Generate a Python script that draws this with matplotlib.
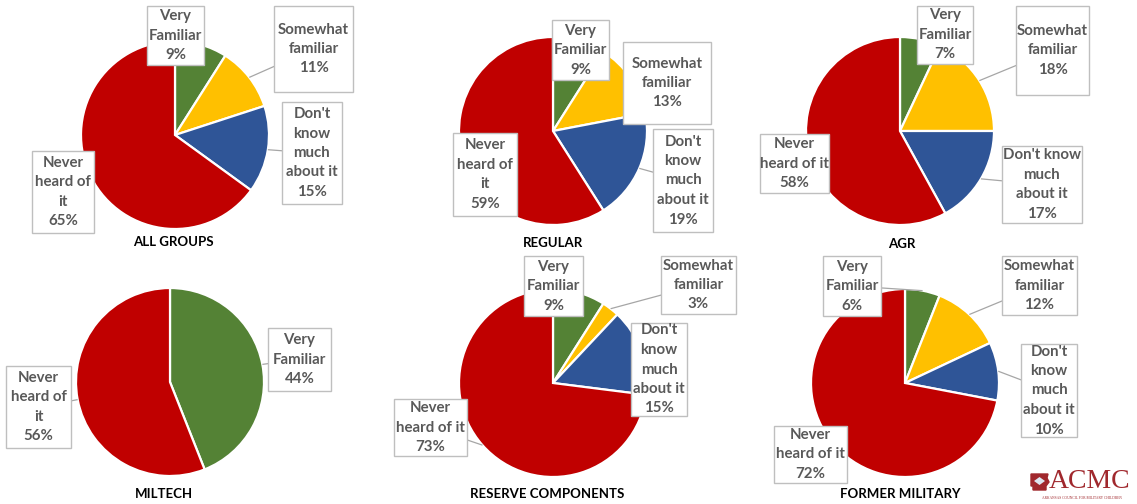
import matplotlib
matplotlib.use("Agg")
import matplotlib.pyplot as plt
from matplotlib.patches import Rectangle, Polygon
import numpy as np

W, H = 1137, 504

# ---------------- data ----------------
groups = ["ALL GROUPS", "REGULAR", "AGR", "MILTECH", "RESERVE COMPONENTS", "FORMER MILITARY"]
categories = ["Very Familiar", "Somewhat familiar", "Don't know much about it", "Never heard of it"]
very_familiar = [9, 9, 7, 44, 9, 6]
somewhat_familiar = [11, 13, 18, 0, 3, 12]
dont_know_much = [15, 19, 17, 0, 15, 10]
never_heard = [65, 59, 58, 56, 73, 72]

colors = ["#548235", "#FFC000", "#2F5597", "#C00000"]

# ---------------- layout (pixel coordinates, y from top) ----------------
pie_centers = [(175, 135), (553, 131), (900, 131), (170, 382), (553, 383), (905, 383)]
pie_radius = 94
title_pos = [(173, 242), (553, 243), (902, 244), (164, 494), (547, 494), (900, 494)]

# label text wrapping per panel
wraps = [
    ["Very\nFamiliar", "Somewhat\nfamiliar", "Don't\nknow\nmuch\nabout it", "Never\nheard of\nit"],
    ["Very\nFamiliar", "Somewhat\nfamiliar", "Don't\nknow\nmuch\nabout it", "Never\nheard of\nit"],
    ["Very\nFamiliar", "Somewhat\nfamiliar", "Don't know\nmuch\nabout it", "Never\nheard of it"],
    ["Very\nFamiliar", None, None, "Never\nheard of\nit"],
    ["Very\nFamiliar", "Somewhat\nfamiliar", "Don't\nknow\nmuch\nabout it", "Never\nheard of it"],
    ["Very\nFamiliar", "Somewhat\nfamiliar", "Don't\nknow\nmuch\nabout it", "Never\nheard of it"],
]
# label boxes (left, top, right, bottom)
boxes = [
    [(147, 6, 204, 65), (274, 6, 353, 92), (282, 102, 342, 204), (32, 151, 94, 233)],
    [(552, 20, 609, 80), (623, 42, 711, 124), (653, 129, 713, 232), (453, 133, 517, 216)],
    [(917, 6, 973, 64), (1016, 6, 1089, 95), (1002, 146, 1082, 223), (760, 134, 829, 193)],
    [(268, 328, 331, 391), None, None, (6, 366, 71, 448)],
    [(524, 256, 583, 316), (661, 256, 736, 314), (631, 323, 687, 416), (394, 399, 467, 456)],
    [(823, 256, 881, 316), (1002, 256, 1077, 315), (1021, 344, 1077, 437), (774, 426, 847, 483)],
]
leaders = [
    [0, 1, 1, 0],
    [0, 0, 1, 0],
    [0, 1, 1, 0],
    [1, 0, 0, 1],
    [0, 1, 0, 1],
    [1, 1, 1, 0],
]

LABEL_FONT = ["Lato", "DejaVu Sans"]
LABEL_COLOR = "#595959"

fig = plt.figure(figsize=(W / 100, H / 100), dpi=100)
ax = fig.add_axes([0, 0, 1, 1])


def Y(y):
    return H - y


series = [very_familiar, somewhat_familiar, dont_know_much, never_heard]
for i, g in enumerate(groups):
    vals = [s[i] for s in series]
    idx = [k for k, v in enumerate(vals) if v > 0]
    cx, cy = pie_centers[i]
    wedges, _ = ax.pie([vals[k] for k in idx], colors=[colors[k] for k in idx],
                       startangle=90, counterclock=False,
                       center=(cx, Y(cy)), radius=pie_radius,
                       wedgeprops=dict(edgecolor="white", linewidth=1.6),
                       frame=True)
    for w, k in zip(wedges, idx):
        w.set_zorder(2)
        l, t, r, b = boxes[i][k]
        bx, by = (l + r) / 2, (t + b) / 2
        if leaders[i][k]:
            mid = np.deg2rad((w.theta1 + w.theta2) / 2)
            px = w.center[0] + w.r * np.cos(mid)
            py = w.center[1] + w.r * np.sin(mid)
            ax.plot([bx, px], [Y(by), py], color="#A6A6A6", lw=0.9, zorder=3,
                    solid_capstyle="butt")
        ax.add_patch(Rectangle((l, Y(b)), r - l, b - t, facecolor="white",
                               edgecolor="#BFBFBF", lw=1.0, zorder=4))
        ax.text(bx, Y(by), f"{wraps[i][k]}\n{vals[k]}%", ha="center", va="center",
                multialignment="center", fontsize=10.8, fontweight="bold",
                color=LABEL_COLOR, family=LABEL_FONT, linespacing=1.5, zorder=5)
    tx, ty = title_pos[i]
    ax.text(tx, Y(ty), g, ha="center", va="center", fontsize=9.5, fontweight="bold",
            color="black", family=LABEL_FONT, zorder=5)

# ---------------- logo ----------------
logo_red = "#A0282D"
ax.add_patch(Polygon([(1031, Y(474)), (1048, Y(474)), (1047, Y(478)), (1049, Y(482)),
                      (1046, Y(486)), (1046, Y(490)), (1033, Y(490)), (1033, Y(486)),
                      (1031, Y(486))], closed=True, facecolor=logo_red,
                     edgecolor=logo_red, zorder=5))
ax.add_patch(Polygon([(1034, Y(481)), (1039.5, Y(477)), (1045, Y(481)), (1039.5, Y(485))],
                     closed=True, facecolor="#DDE6F0", edgecolor="none", zorder=6))
ax.text(1090, Y(482), "ACMC", ha="center", va="center", fontsize=20,
        family=["Liberation Serif", "DejaVu Serif"], color=logo_red, zorder=5)
ax.text(1082, Y(498), "ARKANSAS COUNCIL FOR MILITARY CHILDREN", ha="center",
        va="center", fontsize=2.6, family=["Liberation Serif", "DejaVu Serif"],
        color=logo_red, zorder=5)

ax.set_xlim(0, W)
ax.set_ylim(0, H)
ax.set_aspect("equal")
ax.axis("off")

fig.savefig("out.png", dpi=100, facecolor="white")
